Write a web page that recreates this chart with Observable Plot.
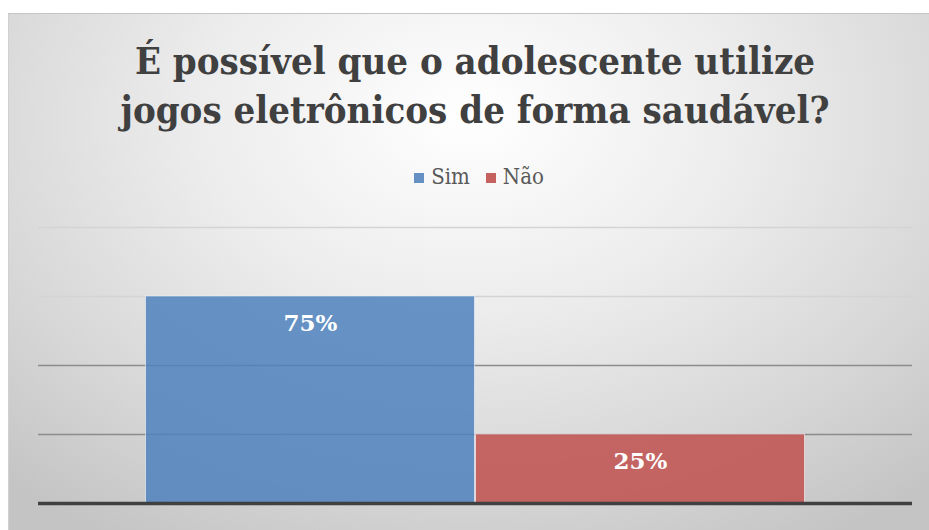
<!DOCTYPE html>
<html>
<head>
<meta charset="utf-8">
<script src="https://cdn.jsdelivr.net/npm/d3@7"></script>
<script src="https://cdn.jsdelivr.net/npm/@observablehq/plot@0.6"></script>
<style>
  body { margin: 0; background: #ffffff; }
  #page { position: relative; width: 929px; height: 530px; overflow: hidden; }
  #frame { position: absolute; left: 8px; top: 13px; width: 921px; height: 517px;
    border-top: 1px solid #c4c4c4; border-left: 1px solid #d0d0d0;
    background: radial-gradient(ellipse 75% 95% at 50% 20%, #ffffff 0%, #ececec 40%, #d6d6d6 75%, #c4c4c4 100%); }
  .title { position: absolute; left: 0; width: 950px; text-align: center;
    font-family: "DejaVu Serif", serif; font-stretch: condensed; font-weight: bold;
    color: #404040; font-size: 38px; line-height: 38px; white-space: nowrap; }
  #legend { position: absolute; left: 4px; width: 950px; top: 165px; text-align: center;
    font-family: "DejaVu Serif", serif; font-stretch: condensed; font-size: 22px; color: #595959; line-height: 24px; }
  #legend .item { display: inline-block; margin: 0 8px; }
  #legend .sw { display: inline-block; width: 10px; height: 10px; margin-right: 7px; vertical-align: 1px; }
  #chart { position: absolute; left: 0; top: 200px; }
  #chart svg { overflow: visible; }
</style>
</head>
<body>
<div id="page">
  <div id="frame"></div>
  <div class="title" id="t1" style="top:42px"></div>
  <div class="title" id="t2" style="top:91px"></div>
  <div id="legend"></div>
  <div id="chart"></div>
</div>
<script>
const titleLines = ["É possível que o adolescente utilize", "jogos eletrônicos de forma saudável?"];
const categories = ["Sim", "Não"];
const values = [75, 25];
const valueLabels = ["75%", "25%"];
const gridTicks = [25, 50, 75, 100];
const barColors = ["#4F81BD", "#C0504D"];
const swatchColors = ["#6590C4", "#C5625F"];

document.getElementById("t1").textContent = titleLines[0];
document.getElementById("t2").textContent = titleLines[1];

const legend = document.getElementById("legend");
categories.forEach((c, i) => {
  const item = document.createElement("span");
  item.className = "item";
  const sw = document.createElement("span");
  sw.className = "sw";
  sw.style.background = swatchColors[i];
  item.appendChild(sw);
  item.appendChild(document.createTextNode(c));
  legend.appendChild(item);
});

const data = categories.map((c, i) => ({cat: c, value: values[i], label: valueLabels[i]}));

const chart = Plot.plot({
  width: 929,
  height: 330,
  marginTop: 27,
  marginBottom: 27,
  marginLeft: 38,
  marginRight: 17,
  style: {background: "transparent", overflow: "visible"},
  x: {domain: categories, paddingInner: 0, paddingOuter: 0.322, axis: null},
  y: {domain: [0, 100], axis: null},
  color: {domain: categories, range: barColors},
  marks: [
    Plot.ruleY(gridTicks.filter(d => d <= 50), {stroke: "#8c8c8c", strokeWidth: 1.3}),
    Plot.ruleY(gridTicks.filter(d => d > 50), {stroke: "#d4d4d4", strokeWidth: 1.3}),
    Plot.barY(data, {x: "cat", y: "value", fill: "cat", fillOpacity: 0.85,
      stroke: "#ffffff", strokeOpacity: 0.55, strokeWidth: 1, insetLeft: 0.5, insetRight: 0.5}),
    Plot.ruleY([0], {stroke: "#404040", strokeWidth: 3.5}),
    Plot.text(data, {x: "cat", y: "value", text: "label", dy: 27, fill: "#ffffff",
      fontWeight: "bold", fontSize: 23, fontFamily: "DejaVu Serif"})
  ]
});
document.getElementById("chart").appendChild(chart);
</script>
</body>
</html>
